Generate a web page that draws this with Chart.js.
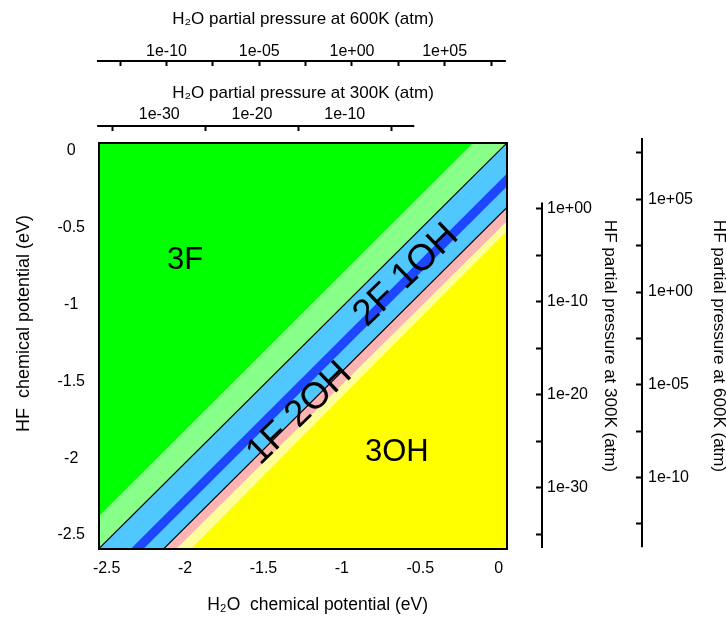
<!DOCTYPE html>
<html><head><meta charset="utf-8">
<script src="https://cdn.jsdelivr.net/npm/chart.js@4.4.1/dist/chart.umd.min.js"></script>
<style>html,body{margin:0;padding:0;background:#fff}</style>
</head><body>
<canvas id="c" width="726" height="621"></canvas>
<script>
// ---------------- data ----------------
// Boundary lines: HF chemical potential (eV) at the two H2O chemical potential end points
const h2oMuEnds        = [-2.6, 0.1];
const bound3F          = [-2.43, 0.32];   // 3F | light green
const bound2F1OHTop    = [-2.64, 0.10];   // black line
const line2F1OH        = [-2.89, -0.14];  // thick blue line
const bound1F2OHBottom = [-3.06, -0.32];  // black line
const boundPink        = [-3.14, -0.41];  // pink | pale yellow
const bound3OH         = [-3.24, -0.47];  // pale yellow | 3OH

const muTicks = [-2.5, -2, -1.5, -1, -0.5, 0];

// log10 partial pressure axes
const h2o600Ticks   = [-12.5, -10, -7.5, -5, -2.5, 0, 2.5, 5, 7.5];
const h2o600Labeled = [-10, -5, 0, 5];
const h2o600Text    = ['1e-10', '1e-05', '1e+00', '1e+05'];
const h2o300Ticks   = [-35, -30, -25, -20, -15, -10, -5];
const h2o300Labeled = [-30, -20, -10];
const h2o300Text    = ['1e-30', '1e-20', '1e-10'];
const hf300Ticks    = [-35, -30, -25, -20, -15, -10, -5, 0];
const hf300Labeled  = [0, -10, -20, -30];
const hf300Text     = ['1e+00', '1e-10', '1e-20', '1e-30'];
const hf600Ticks    = [-12.5, -10, -7.5, -5, -2.5, 0, 2.5, 5, 7.5];
const hf600Labeled  = [5, 0, -5, -10];
const hf600Text     = ['1e+05', '1e+00', '1e-05', '1e-10'];

const regionNames = ['3F', '3OH', '2F 1OH', '1F 2OH'];

// ---------------- layout / style ----------------
const FONT = "'Liberation Sans', Arial, sans-serif";
Chart.defaults.font.family = FONT;
Chart.defaults.color = '#000';

const regionPlacement = [
  {x: -2.0,  y: -0.71, rot: 0,   size: 31},
  {x: -0.65, y: -1.96, rot: 0,   size: 31},
  {x: -0.59, y: -0.81, rot: -44, size: 37},
  {x: -1.27, y: -1.71, rot: -44, size: 37}
];

const axisSpans = {
  xH600: [-13.75, 8.3],
  xH300: [-36.7, -2.5],
  yF300: [0.7, -36.5],
  yF600: [8.3, -13.75]
};

function seg(yEnds) { return h2oMuEnds.map((x, i) => ({x: x, y: yEnds[i]})); }

function pressureAxis(o) {
  const horiz = o.position === 'top';
  return {
    type: 'linear', position: o.position, weight: o.weight,
    min: o.min, max: o.max,
    border: {display: false},
    grid: {
      display: true, drawOnChartArea: false, drawTicks: true,
      tickLength: o.tl, tickWidth: 2,
      tickColor: ctx => (o.noTickAtLabel && ctx.tick && o.labeled.includes(ctx.tick.value)) ? 'rgba(0,0,0,0)' : '#000',
      tickBorderDash: horiz ? [5, 1000] : [0, o.tl - 6, 6, 1000]
    },
    afterBuildTicks: s => { s.ticks = o.ticks.map(v => ({value: v})); },
    afterFit: s => { if (horiz) s.height = o.size; else s.width = o.size; },
    ticks: {
      autoSkip: false, maxRotation: 0, minRotation: 0, padding: o.pad,
      font: {size: 16, lineHeight: 1.2},
      callback: v => { const i = o.labeled.indexOf(v); return i >= 0 ? o.text[i] : ''; }
    },
    title: {display: true, text: o.title, padding: {top: o.titlePad, bottom: 0},
            font: {size: 17, lineHeight: o.titleLH || 1.2}}
  };
}

const extrasPlugin = {
  id: 'extras',
  afterDatasetsDraw(chart) {
    const {ctx, chartArea: a} = chart;
    const xs = chart.scales.x, ys = chart.scales.y;
    ctx.save();
    ctx.fillStyle = '#000';
    ctx.textAlign = 'center'; ctx.textBaseline = 'middle';
    regionNames.forEach((t, i) => {
      const p = regionPlacement[i];
      ctx.save();
      ctx.translate(xs.getPixelForValue(p.x), ys.getPixelForValue(p.y));
      ctx.rotate(p.rot * Math.PI / 180);
      ctx.font = p.size + 'px ' + FONT;
      ctx.fillText(t, 0, 0);
      ctx.restore();
    });
    ctx.strokeStyle = '#000'; ctx.lineWidth = 2;
    ctx.strokeRect(a.left, a.top, a.right - a.left, a.bottom - a.top);
    ctx.restore();
  },
  afterDraw(chart) {
    const ctx = chart.ctx;
    ctx.save();
    ctx.strokeStyle = '#000'; ctx.lineWidth = 2;
    Object.keys(axisSpans).forEach(id => {
      const s = chart.scales[id], ext = axisSpans[id];
      const tl = s.options.grid.tickLength;
      ctx.beginPath();
      if (s.isHorizontal()) {
        const y = s.bottom - tl;
        ctx.moveTo(s.getPixelForValue(ext[0]), y); ctx.lineTo(s.getPixelForValue(ext[1]), y);
      } else {
        const x = s.left + tl;
        ctx.moveTo(x, s.getPixelForValue(ext[0])); ctx.lineTo(x, s.getPixelForValue(ext[1]));
      }
      ctx.stroke();
    });
    ctx.restore();
  }
};

new Chart(document.getElementById('c'), {
  type: 'line',
  data: {
    datasets: [
      {data: seg(bound3F),          fill: 'end',   backgroundColor: '#00ff00', borderWidth: 0, order: 5},
      {data: seg(bound2F1OHTop),    fill: '-1',    backgroundColor: '#88ff88', borderColor: '#000', borderWidth: 1.2, order: 5},
      {data: seg(bound1F2OHBottom), fill: '-1',    backgroundColor: '#50c8ff', borderColor: '#000', borderWidth: 1.2, order: 5},
      {data: seg(boundPink),        fill: '-1',    backgroundColor: '#ffb4b4', borderWidth: 0, order: 5},
      {data: seg(bound3OH),         fill: '-1',    backgroundColor: '#ffff99', borderWidth: 0, order: 5},
      {data: seg(bound3OH),         fill: 'start', backgroundColor: '#ffff00', borderWidth: 0, order: 5},
      {data: seg(line2F1OH),        fill: false,   borderColor: '#1e46ff', borderWidth: 9, order: 0}
    ].map(d => Object.assign({clip: 0, pointRadius: 0, tension: 0}, d))
  },
  options: {
    responsive: false, animation: false,
    layout: {padding: 0},
    plugins: {legend: {display: false}, tooltip: {enabled: false}},
    scales: {
      x: {
        type: 'linear', position: 'bottom', min: -2.549, max: 0.053,
        grid: {display: false}, border: {display: false},
        afterBuildTicks: s => { s.ticks = muTicks.map(v => ({value: v})); },
        afterFit: s => { s.height = 72; },
        ticks: {autoSkip: false, maxRotation: 0, padding: 2, font: {size: 16, lineHeight: 1.2},
                callback: v => String(v)},
        title: {display: true, text: '      H\u2082O  chemical potential (eV)', padding: {top: 0, bottom: 5},
                font: {size: 17.5, lineHeight: 1.2}}
      },
      y: {
        type: 'linear', position: 'left', min: -2.591, max: 0.052,
        grid: {display: false}, border: {display: false},
        afterBuildTicks: s => { s.ticks = muTicks.map(v => ({value: v})); },
        afterFit: s => { s.width = 99; },
        ticks: {autoSkip: false, crossAlign: 'center', padding: 6, font: {size: 16, lineHeight: 1.2},
                callback: v => String(v)},
        title: {display: true, text: '         HF  chemical potential (eV)', padding: {top: 13, bottom: 0},
                font: {size: 18, lineHeight: 1.2}}
      },
      xH600: pressureAxis({position: 'top', weight: 1, min: -13.64, max: 8.36, ticks: h2o600Ticks,
        labeled: h2o600Labeled, text: h2o600Text, tl: 12, pad: 0, size: 73,
        title: 'H\u2082O partial pressure at 600K (atm)', titlePad: 9}),
      xH300: pressureAxis({position: 'top', weight: 0, min: -36.5, max: 7.5, ticks: h2o300Ticks,
        labeled: h2o300Labeled, text: h2o300Text, tl: 17, pad: 2, size: 70, noTickAtLabel: true,
        title: 'H\u2082O partial pressure at 300K (atm)', titlePad: 10}),
      yF300: pressureAxis({position: 'right', weight: 0, min: -36.6, max: 7.1, ticks: hf300Ticks,
        labeled: hf300Labeled, text: hf300Text, tl: 35, pad: 5, size: 120,
        title: 'HF partial pressure at 300K (atm)', titlePad: 7}),
      yF600: pressureAxis({position: 'right', weight: 1, min: -13.85, max: 8.03, ticks: hf600Ticks,
        labeled: hf600Labeled, text: hf600Text, tl: 15, pad: 6, size: 99,
        title: 'HF partial pressure at 600K (atm)', titlePad: 0, titleLH: 0.82})
    }
  },
  plugins: [extrasPlugin]
});
</script>
</body></html>
